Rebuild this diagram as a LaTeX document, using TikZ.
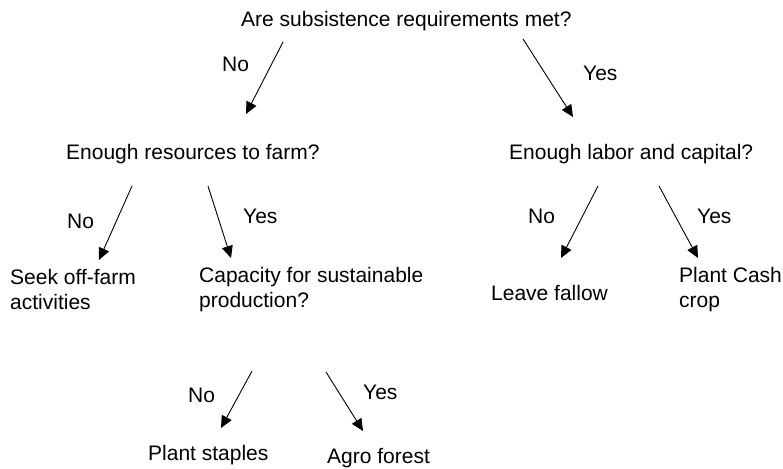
\documentclass[tikz,border=0pt]{standalone}
\usepackage{fontspec}
\setmainfont{Liberation Sans}
\usetikzlibrary{arrows.meta}
\begin{document}
\begin{tikzpicture}[x=1pt,y=-1pt,
  lbl/.style={inner sep=0pt,anchor=base west,font=\fontsize{21}{25}\selectfont},
  mlbl/.style={inner sep=0pt,anchor=base west,align=left,font=\fontsize{21}{25}\selectfont},
  arr/.style={line width=0.9pt,-{Triangle[length=12pt,width=11pt]}}]
\useasboundingbox[fill=white] (0,0) rectangle (783,468);
% texts
\node[lbl] (q1) at (241,27) {Are subsistence requirements met?};
\node[lbl] (q2) at (66,159) {Enough resources to farm?};
\node[lbl] (q3) at (509,159) {Enough labor and capital?};
\node[mlbl] (seek) at (10,309) {Seek off-farm\\activities};
\node[mlbl] (q4) at (199,307) {Capacity for sustainable\\production?};
\node[lbl] (fallow) at (491,300) {Leave fallow};
\node[mlbl] (cash) at (679,307) {Plant Cash\\crop};
\node[lbl] (staples) at (148,460) {Plant staples};
\node[lbl] (agro) at (327,463) {Agro forest};
% edge labels
\node[lbl] (n1) at (222,72) {No};
\node[lbl] (y1) at (583,81) {Yes};
\node[lbl] (n2) at (67,228) {No};
\node[lbl] (y2) at (243,223) {Yes};
\node[lbl] (n3) at (528,223) {No};
\node[lbl] (y3) at (697,223) {Yes};
\node[lbl] (n4) at (188,402) {No};
\node[lbl] (y4) at (363,399) {Yes};
% arrow endpoints
\coordinate (a1s) at (283,42);  \coordinate (a1e) at (246,114);
\coordinate (b1s) at (523,39);  \coordinate (b1e) at (573,117);
\coordinate (a2s) at (132,186); \coordinate (a2e) at (99,260);
\coordinate (b2s) at (208,186); \coordinate (b2e) at (231,258);
\coordinate (a3s) at (598,186); \coordinate (a3e) at (561,258);
\coordinate (b3s) at (659,186); \coordinate (b3e) at (698,258);
\coordinate (a4s) at (252,371); \coordinate (a4e) at (221,428);
\coordinate (b4s) at (326,372); \coordinate (b4e) at (363,431);
\draw[arr] (a1s) -- (a1e);
\draw[arr] (b1s) -- (b1e);
\draw[arr] (a2s) -- (a2e);
\draw[arr] (b2s) -- (b2e);
\draw[arr] (a3s) -- (a3e);
\draw[arr] (b3s) -- (b3e);
\draw[arr] (a4s) -- (a4e);
\draw[arr] (b4s) -- (b4e);
\end{tikzpicture}
\end{document}
